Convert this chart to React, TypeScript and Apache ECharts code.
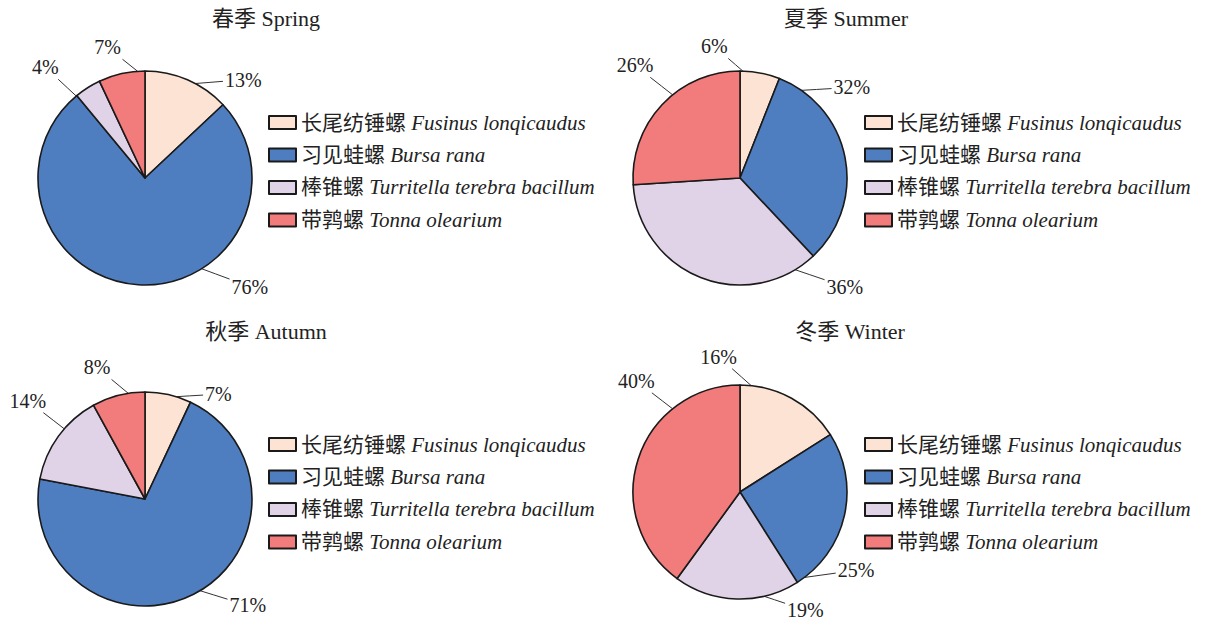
import React, { useEffect, useRef } from "react";
import * as echarts from "echarts";

const categoriesCn = ["长尾纺锤螺", "习见蛙螺", "棒锥螺", "带鹑螺"];
const categoriesLatin = ["Fusinus lonqicaudus", "Bursa rana", "Turritella terebra bacillum", "Tonna olearium"];
const seasonTitles = ["春季 Spring", "夏季 Summer", "秋季 Autumn", "冬季 Winter"];
const springValues = [13, 76, 4, 7];
const summerValues = [6, 32, 36, 26];
const autumnValues = [7, 71, 14, 8];
const winterValues = [16, 25, 19, 40];

const colors = ["#FCE3D4", "#4E7EC0", "#E0D2E7", "#F27C7B"];
const FONT = "'Liberation Serif', 'Noto Sans CJK SC', serif";
const RADIUS = 107;

// label placement per slice: [leader-line start angle on the rim, label angle, label distance from centre]
// angles in degrees clockwise from 12 o'clock
const panels = [
  {
    values: springValues, center: [145, 178], title: [261, 2], legend: [268, 112],
    labels: [[28, 45, 139], [148, 136, 151], [320, 318, 149], [356, 344, 136]],
  },
  {
    values: summerValues, center: [740, 178], title: [841, 2], legend: [864, 112],
    labels: [[1.5, 349, 134], [35, 51, 144], [149, 136, 151], [321, 317, 154]],
  },
  {
    values: autumnValues, center: [145, 499], title: [261, 315], legend: [268, 434],
    labels: [[17, 35, 128], [149, 136, 148], [311, 310, 153], [351, 340, 140]],
  },
  {
    values: winterValues, center: [740, 492], title: [845, 315], legend: [864, 434],
    labels: [[6, 351, 137], [143, 124, 140], [167, 151, 135], [321, 317, 152]],
  },
];

const GAP = 2;

export default function App() {
  const ref = useRef<HTMLDivElement>(null);
  useEffect(() => {
    document.body.style.margin = "0";
    const chart = echarts.init(ref.current!, null, { renderer: "svg" });
    const names = categoriesCn.map((c, i) => `${c} ${categoriesLatin[i]}`);
    const option: any = {
      animation: false,
      backgroundColor: "#ffffff",
      color: colors,
      title: panels.map((p, i) => ({
        text: seasonTitles[i],
        left: p.title[0],
        top: p.title[1],
        textAlign: "center",
        textStyle: { fontFamily: FONT, fontSize: 22, fontWeight: "normal", color: "#222" },
      })),
      legend: panels.map((p) => ({
        orient: "vertical",
        left: p.legend[0],
        top: p.legend[1],
        padding: 0,
        icon: "rect",
        itemWidth: 27,
        itemHeight: 13,
        itemGap: 11.5,
        selectedMode: false,
        data: names,
        formatter: (name: string) => {
          const idx = name.indexOf(" ");
          return `{cn|${name.slice(0, idx)}} {it|${name.slice(idx + 1)}}`;
        },
        textStyle: {
          fontFamily: FONT,
          fontSize: 21,
          color: "#222",
          rich: {
            cn: { fontFamily: FONT, fontSize: 21, color: "#222", lineHeight: 21 },
            it: { fontFamily: FONT, fontSize: 21, fontStyle: "italic", color: "#222", lineHeight: 21 },
          },
        },
      })),
      series: panels.map((p) => ({
        type: "pie",
        center: p.center,
        radius: RADIUS,
        startAngle: 90,
        clockwise: true,
        avoidLabelOverlap: false,
        itemStyle: { borderColor: "#1a1a1a", borderWidth: 1.6 },
        label: {
          show: true,
          position: "outside",
          formatter: "{c}%",
          fontFamily: FONT,
          fontSize: 20,
          color: "#222",
        },
        labelLine: { show: true, length: 18, length2: 0, lineStyle: { color: "#333", width: 1 } },
        labelLayout: (params: any) => {
          const [lineAng, ang, dist] = p.labels[params.dataIndex];
          const rad = (ang * Math.PI) / 180;
          const lx = p.center[0] + dist * Math.sin(rad);
          const ly = p.center[1] - dist * Math.cos(rad);
          const lr = (lineAng * Math.PI) / 180;
          const sx = p.center[0] + RADIUS * Math.sin(lr);
          const sy = p.center[1] - RADIUS * Math.cos(lr);
          const hw = params.labelRect.width / 2 + GAP;
          const hh = params.labelRect.height / 2 + GAP;
          const dx = sx - lx;
          const dy = sy - ly;
          const t = Math.min(
            Math.abs(dx) > 1e-6 ? hw / Math.abs(dx) : Infinity,
            Math.abs(dy) > 1e-6 ? hh / Math.abs(dy) : Infinity
          );
          const ex = lx + t * dx;
          const ey = ly + t * dy;
          return {
            x: lx,
            y: ly,
            align: "center",
            verticalAlign: "middle",
            labelLinePoints: [[sx, sy], [(sx + ex) / 2, (sy + ey) / 2], [ex, ey]],
          };
        },
        emphasis: { disabled: true },
        data: p.values.map((v, i) => ({ name: names[i], value: v })),
      })),
    };
    chart.setOption(option);
    return () => chart.dispose();
  }, []);
  return <div ref={ref} style={{ width: 1208, height: 624, position: "absolute", left: 0, top: 0 }} />;
}
